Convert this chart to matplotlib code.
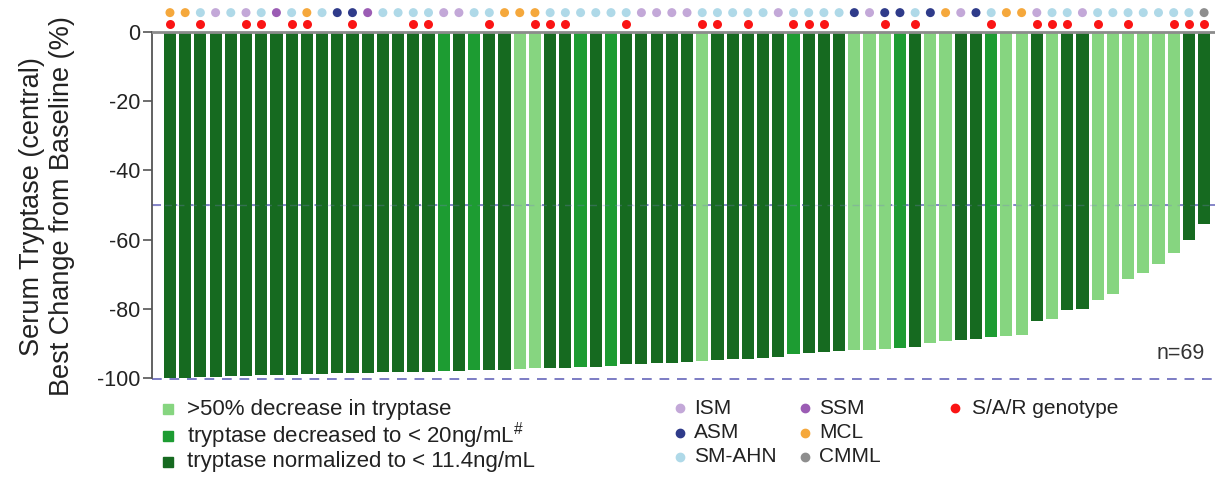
import matplotlib
matplotlib.use('Agg')
import matplotlib.pyplot as plt
from matplotlib.lines import Line2D
import numpy as np

plt.rcParams['font.family'] = ['Liberation Sans', 'DejaVu Sans']
plt.rcParams['mathtext.default'] = 'regular'
plt.rcParams['axes.unicode_minus'] = False

# best change from baseline (%) per patient, sorted
values = [-99.9, -99.9, -99.6, -99.6, -99.4, -99.4, -99.2, -99.1, -99.0, -98.9,
          -98.8, -98.7, -98.6, -98.5, -98.4, -98.4, -98.3, -98.2, -98.0, -97.9,
          -97.8, -97.7, -97.6, -97.4, -97.2, -97.1, -97.0, -96.8, -96.7, -96.5,
          -96.0, -95.9, -95.8, -95.6, -95.3, -95.0, -94.8, -94.6, -94.4, -94.3,
          -93.8, -93.2, -92.9, -92.6, -92.2, -92.0, -91.8, -91.5, -91.2, -91.0,
          -90.0, -89.3, -89.0, -88.7, -88.2, -87.9, -87.6, -83.4, -83.0, -80.3,
          -80.2, -77.5, -75.7, -71.4, -69.7, -67.1, -64.0, -60.1, -55.5]

# response: L = >50% decrease, M = <20 ng/mL, D = normalized <11.4 ng/mL
response = list("DDDDDDDDDDDDDDDDDD"   # 0-17
                "MDMDDLLDDMDMDDDDDL"   # 18-35
                "DDDDDMDDDLLLMDLLDD"   # 36-53
                "MLLDLDDLLLLLLDD")     # 54-68

subtype = ['MCL', 'MCL', 'SM-AHN', 'ISM', 'SM-AHN', 'ISM', 'SM-AHN', 'SSM', 'SM-AHN', 'MCL',
           'SM-AHN', 'ASM', 'ASM', 'SSM', 'SM-AHN', 'SM-AHN', 'SM-AHN', 'SM-AHN', 'ISM', 'ISM',
           'SM-AHN', 'SM-AHN', 'MCL', 'MCL', 'MCL', 'SM-AHN', 'SM-AHN', 'SM-AHN', 'SM-AHN', 'SM-AHN',
           'SM-AHN', 'ISM', 'ISM', 'ISM', 'ISM', 'SM-AHN', 'SM-AHN', 'SM-AHN', 'SM-AHN', 'SM-AHN',
           'ISM', 'SM-AHN', 'SM-AHN', 'SM-AHN', 'SM-AHN', 'ASM', 'ISM', 'ASM', 'ASM', 'SM-AHN',
           'ASM', 'MCL', 'ISM', 'ASM', 'SM-AHN', 'MCL', 'MCL', 'ISM', 'SM-AHN', 'SM-AHN',
           'ISM', 'SM-AHN', 'SM-AHN', 'SM-AHN', 'SM-AHN', 'SM-AHN', 'SM-AHN', 'SM-AHN', 'CMML']

# patients with S/A/R genotype
sar = [0, 2, 5, 6, 8, 9, 12, 16, 17, 21, 24, 25, 26, 30, 35, 36, 38, 41, 42, 43,
       47, 49, 54, 57, 58, 59, 61, 63, 66, 67, 68]

resp_colors = {'L': '#86d580', 'M': '#1d9c32', 'D': '#166a20'}
resp_labels = {'L': '>50% decrease in tryptase',
               'M': 'tryptase decreased to < 20ng/mL$^{\\#}$',
               'D': 'tryptase normalized to < 11.4ng/mL'}
sub_colors = {'ISM': '#c3a8d8', 'SSM': '#9b5cb4', 'ASM': '#2f3b8a',
              'MCL': '#f5a83c', 'SM-AHN': '#afd9e8', 'CMML': '#8e8e8e'}
red = '#fa1414'

fig = plt.figure(figsize=(12.23, 4.79), dpi=100)
ax = fig.add_axes([0.1243, 0.2109, 0.8692, 0.7873])

x = np.arange(len(values))
ax.bar(x, values, width=0.8, color=[resp_colors[r] for r in response], zorder=2)

dash = (0, (5, 4))
ax.axhline(-50, color='#7c7cc4', lw=1.3, ls=dash, zorder=1)
ax.axhline(-50, color='#7c7cc4', lw=1.0, ls=dash, alpha=0.3, zorder=2.5)
ax.axhline(-100.4, color='#7c7cc4', lw=1.4, ls=dash, zorder=1, clip_on=False)
ax.axhline(0, color='#8c8c8c', lw=2, zorder=3)

# subtype dots and genotype dots above the bars
ax.scatter(x, np.full(len(x), 5.6), s=42, c=[sub_colors[s] for s in subtype],
           linewidths=0, clip_on=False, zorder=4)
ax.scatter(sar, np.full(len(sar), 2.2), s=42, c=red, linewidths=0,
           clip_on=False, zorder=4)

ax.set_xlim(-1.18, 68.72)
ax.set_ylim(-100, 9)
ax.set_xticks([])
ax.set_yticks([0, -20, -40, -60, -80, -100])
for s in ['top', 'right', 'bottom']:
    ax.spines[s].set_visible(False)
ax.spines['left'].set_bounds(-100, 0)
ax.spines['left'].set_color('#555555')
ax.spines['left'].set_linewidth(1.3)
ax.tick_params(axis='y', length=6.5, width=1.2, color='#555555',
               labelsize=15.5, labelcolor='#222222', pad=2)

ax.set_ylabel('Serum Tryptase (central)\nBest Change from Baseline (%)',
              fontsize=19.5, color='#222222', linespacing=1.2)
ax.yaxis.set_label_coords(-0.0724, 0.455)

ax.text(68.05, -92.8, 'n=69', ha='right', va='center', fontsize=15.5, color='#333333')

# legends
def fx(px):
    return px / 1223

def fy(py):
    return 1 - py / 479

for key, py in zip(['L', 'M', 'D'], [409, 436, 462]):
    fig.add_artist(Line2D([fx(168)], [fy(py)], marker='s', ms=7.5, ls='none',
                          color=resp_colors[key], transform=fig.transFigure))
    fig.text(fx(187), fy(py), resp_labels[key], va='center', fontsize=16, color='#222222')

sub_layout = [('ISM', 680, 408), ('ASM', 680, 433), ('SM-AHN', 680, 457),
              ('SSM', 805, 408), ('MCL', 805, 433), ('CMML', 805, 457)]
for name, px, py in sub_layout:
    fig.add_artist(Line2D([fx(px)], [fy(py)], marker='o', ms=6, ls='none',
                          color=sub_colors[name], transform=fig.transFigure))
    fig.text(fx(px + 14), fy(py), name, va='center', fontsize=15, color='#222222')

fig.add_artist(Line2D([fx(955)], [fy(408)], marker='o', ms=6, ls='none',
                      color=red, transform=fig.transFigure))
fig.text(fx(972), fy(408), 'S/A/R genotype', va='center', fontsize=15, color='#222222')

fig.savefig('out.png', dpi=100)
